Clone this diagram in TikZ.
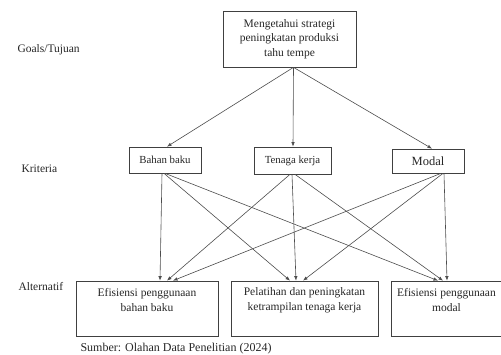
\documentclass[tikz,border=0pt]{standalone}
\usepackage{fontspec}
\setmainfont{Liberation Serif}
\usetikzlibrary{arrows.meta}

\tikzset{
  box/.style={draw=black!75, line width=0.7pt, align=center, inner sep=0pt, text=black!85},
  level/.style={anchor=base west, text=black!85, font=\fontsize{11.5}{13}\selectfont},
  link/.style={draw=black!70, line width=0.6pt, -{Latex[length=4.5pt,width=3.5pt]}}
}

\begin{document}
\begin{tikzpicture}[x=1pt,y=-1pt]
\useasboundingbox (0,0) rectangle (501,354);

 \node[level] (lgoal) at (14,52) {Goals/Tujuan};
 \node[level] (lcrit) at (18,172) {Kriteria};
 \node[level] (lalt) at (15,290) {Alternatif};

 \node[box, minimum width=133pt, minimum height=56pt, font=\fontsize{11.5}{14.5}\selectfont] (goal) at (289.5,39) {Mengetahui strategi\\peningkatan produksi\\tahu tempe};

 \node[box, minimum width=72pt, minimum height=26pt, font=\fontsize{10.8}{13}\selectfont] (bb) at (165,160) {Bahan baku};
 \node[box, minimum width=77pt, minimum height=27pt, font=\fontsize{10.8}{13}\selectfont] (tk) at (292.5,160.5) {Tenaga kerja};
 \node[box, minimum width=72pt, minimum height=24pt, font=\fontsize{12.5}{14}\selectfont] (md) at (428,161) {Modal};

 \node[box, minimum width=142pt, font=\fontsize{11.5}{15}\selectfont] (alt1) at (147,308.5) {\parbox[c][55pt][t]{140pt}{\centering\vspace*{7pt}Efisiensi penggunaan\\bahan baku}};
 \node[box, minimum width=147pt, font=\fontsize{11.5}{15}\selectfont] (alt2) at (304.5,308.5) {\parbox[c][55pt][t]{145pt}{\centering\vspace*{7pt}Pelatihan dan peningkatan\\ketrampilan tenaga kerja}};
 \node[box, minimum width=118pt, font=\fontsize{11.5}{15}\selectfont] (alt3) at (450,308.5) {\parbox[c][55pt][t]{116pt}{\centering\vspace*{7pt}\hspace*{-7pt}Efisiensi penggunaan\\\hspace*{-7pt}modal}};

 \node[anchor=base west, text=black!85, font=\fontsize{12}{14}\selectfont] (src) at (77,351.5) {Sumber: Olahan Data Penelitian (2024)};

 % goal to criteria
 \draw[link] ([xshift=4pt]goal.south) -- ([xshift=2pt]bb.north);
 \draw[link] ([xshift=4pt]goal.south) -- ([xshift=0.5pt]tk.north);
 \draw[link] ([xshift=4pt]goal.south) -- ([xshift=4pt]md.north);

 % criteria to alternatives
 \draw[link] ([xshift=-3pt]bb.south) -- ([xshift=13pt]alt1.north);
 \draw[link] ([xshift=-1pt]bb.south) -- ([xshift=-14.5pt]alt2.north);
 \draw[link] (bb.south) -- ([xshift=-12pt]alt3.north);

 \draw[link] ([xshift=-2.5pt]tk.south) -- ([xshift=20pt]alt1.north);
 \draw[link] ([xshift=-0.5pt]tk.south) -- ([xshift=-8.5pt]alt2.north);
 \draw[link] ([xshift=2.5pt]tk.south) -- ([xshift=-7pt]alt3.north);

 \draw[link] ([xshift=13pt]md.south) -- ([xshift=26pt]alt1.north);
 \draw[link] ([xshift=15pt]md.south) -- ([xshift=-1.5pt]alt2.north);
 \draw[link] ([xshift=16pt]md.south) -- ([xshift=-3pt]alt3.north);

\end{tikzpicture}
\end{document}
